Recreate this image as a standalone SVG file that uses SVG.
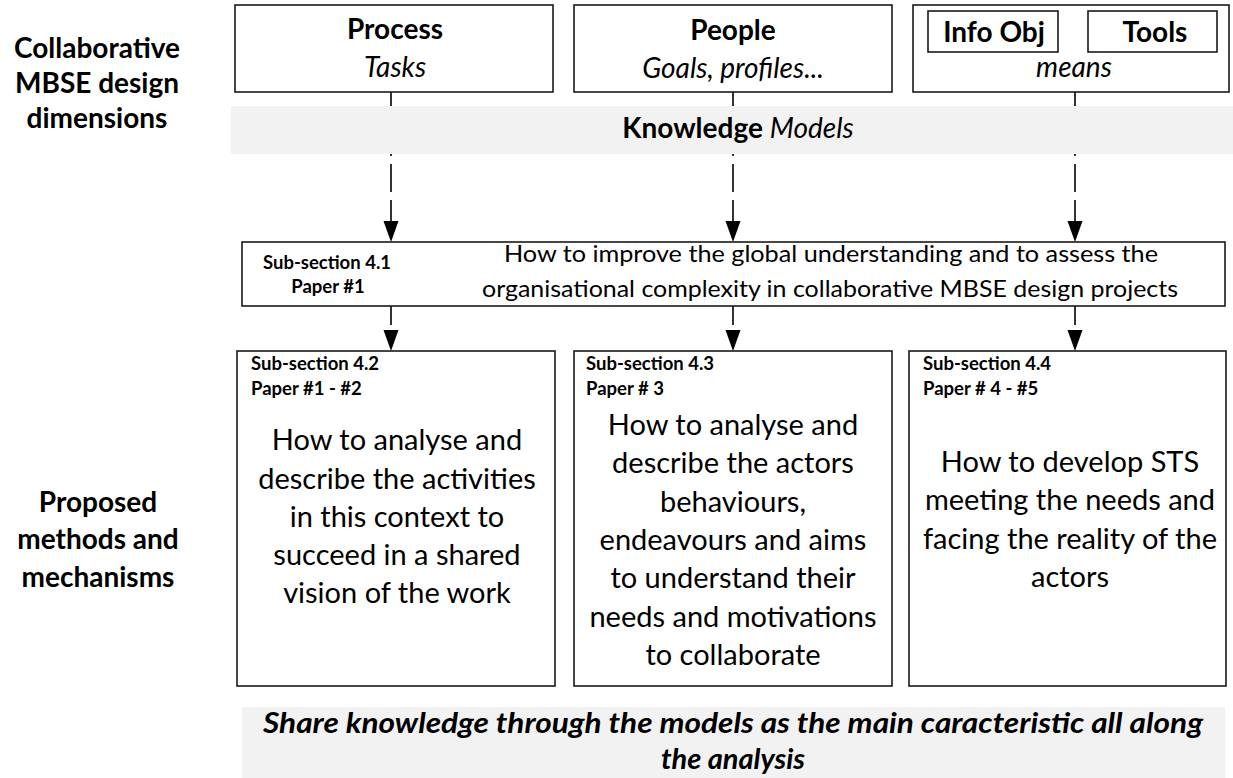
<svg xmlns="http://www.w3.org/2000/svg" width="1233" height="778" viewBox="0 0 1233 778">
<style>
text{font-family:"Lato","Liberation Sans",sans-serif;fill:#000}
.box{fill:#fff;stroke:#1a1a1a;stroke-width:1.6}
.band{fill:#f2f2f2;stroke:none}
.lbl{font-size:28px;font-weight:bold;text-anchor:middle}
.hd{font-size:28px;font-weight:bold;text-anchor:middle}
.it{font-size:28px;font-style:italic;text-anchor:middle}
.sub{font-size:18.5px;font-weight:bold}
.mid{font-size:22.5px;text-anchor:middle}
.big{font-size:29px;text-anchor:middle}
.bot{font-size:29px;font-weight:bold;font-style:italic;text-anchor:middle}
.con{fill:none;stroke:#000;stroke-width:1.6;stroke-dasharray:28 8}
.head{fill:#000}
</style>
<g id="label-dimensions">
<text class="lbl" x="97" y="58">Collaborative</text>
<text class="lbl" x="97" y="93">MBSE design</text>
<text class="lbl" x="97" y="128">dimensions</text>
</g>
<g id="label-methods">
<text class="lbl" x="98" y="512">Proposed</text>
<text class="lbl" x="98" y="549">methods and</text>
<text class="lbl" x="98" y="587">mechanisms</text>
</g>
<g id="connectors">
<line class="con" x1="391" y1="92" x2="391" y2="224"/>
<line class="con" x1="733" y1="92" x2="733" y2="224"/>
<line class="con" x1="1075" y1="92" x2="1075" y2="224"/>
<polygon class="head" points="383.5,221 398.5,221 391,242"/>
<polygon class="head" points="725.5,221 740.5,221 733,242"/>
<polygon class="head" points="1067.5,221 1082.5,221 1075,242"/>
<line class="con" style="stroke-dashoffset:9" x1="391" y1="306" x2="391" y2="333"/>
<line class="con" style="stroke-dashoffset:9" x1="733" y1="306" x2="733" y2="333"/>
<line class="con" style="stroke-dashoffset:9" x1="1075" y1="306" x2="1075" y2="333"/>
<polygon class="head" points="383.5,330 398.5,330 391,351"/>
<polygon class="head" points="725.5,330 740.5,330 733,351"/>
<polygon class="head" points="1067.5,330 1082.5,330 1075,351"/>
</g>
<g id="process">
<rect class="box" x="235" y="5" width="318" height="87"/>
<text class="hd" x="395" y="39">Process</text>
<text class="it" x="395" y="77">Tasks</text>
</g>
<g id="people">
<rect class="box" x="574" y="5" width="318" height="87"/>
<text class="hd" x="733" y="40">People</text>
<text class="it" x="733" y="78">Goals, profiles...</text>
</g>
<g id="means">
<rect class="box" x="913" y="5" width="316" height="87"/>
<rect class="box" x="928" y="11" width="130" height="41"/>
<text class="hd" x="994" y="42">Info Obj</text>
<rect class="box" x="1088" y="11" width="129" height="41"/>
<text class="hd" x="1155" y="42">Tools</text>
<text class="it" x="1074" y="77">means</text>
</g>
<g id="knowledge">
<rect class="band" x="231" y="106" width="1002" height="48"/>
<text class="hd" x="738" y="138">Knowledge <tspan font-weight="normal" font-style="italic">Models</tspan></text>
</g>
<g id="sub41">
<rect class="box" x="242" y="242" width="983" height="64"/>
<text class="sub" x="327" y="269" text-anchor="middle">Sub-section 4.1</text>
<text class="sub" x="328" y="293" text-anchor="middle">Paper #1</text>
<text class="mid" x="831" y="262" textLength="654" lengthAdjust="spacingAndGlyphs">How to improve the global understanding and to assess the</text>
<text class="mid" x="830" y="297" textLength="696" lengthAdjust="spacingAndGlyphs">organisational complexity in collaborative MBSE design projects</text>
</g>
<g id="sub42">
<rect class="box" x="237" y="351" width="318" height="335"/>
<text class="sub" x="251" y="370">Sub-section 4.2</text>
<text class="sub" x="251" y="395">Paper #1 - #2</text>
<text class="big" x="397" y="450">How to analyse and</text>
<text class="big" x="397" y="488.5">describe the activities</text>
<text class="big" x="397" y="527">in this context to</text>
<text class="big" x="397" y="565">succeed in a shared</text>
<text class="big" x="397" y="603">vision of the work</text>
</g>
<g id="sub43">
<rect class="box" x="574" y="351" width="318" height="335"/>
<text class="sub" x="586" y="370">Sub-section 4.3</text>
<text class="sub" x="586" y="395">Paper # 3</text>
<text class="big" x="733" y="435">How to analyse and</text>
<text class="big" x="733" y="473">describe the actors</text>
<text class="big" x="733" y="512">behaviours,</text>
<text class="big" x="733" y="550">endeavours and aims</text>
<text class="big" x="733" y="588">to understand their</text>
<text class="big" x="733" y="627">needs and motivations</text>
<text class="big" x="733" y="665">to collaborate</text>
</g>
<g id="sub44">
<rect class="box" x="909" y="351" width="317" height="335"/>
<text class="sub" x="923" y="370">Sub-section 4.4</text>
<text class="sub" x="923" y="395">Paper # 4 - #5</text>
<text class="big" x="1070" y="472">How to develop STS</text>
<text class="big" x="1070" y="510">meeting the needs and</text>
<text class="big" x="1070" y="549">facing the reality of the</text>
<text class="big" x="1070" y="587">actors</text>
</g>
<g id="share">
<rect class="band" x="242" y="707" width="983" height="71"/>
<text class="bot" x="733" y="733" textLength="940" lengthAdjust="spacingAndGlyphs">Share knowledge through the models as the main caracteristic all along</text>
<text class="bot" x="733" y="769">the analysis</text>
</g>
</svg>
